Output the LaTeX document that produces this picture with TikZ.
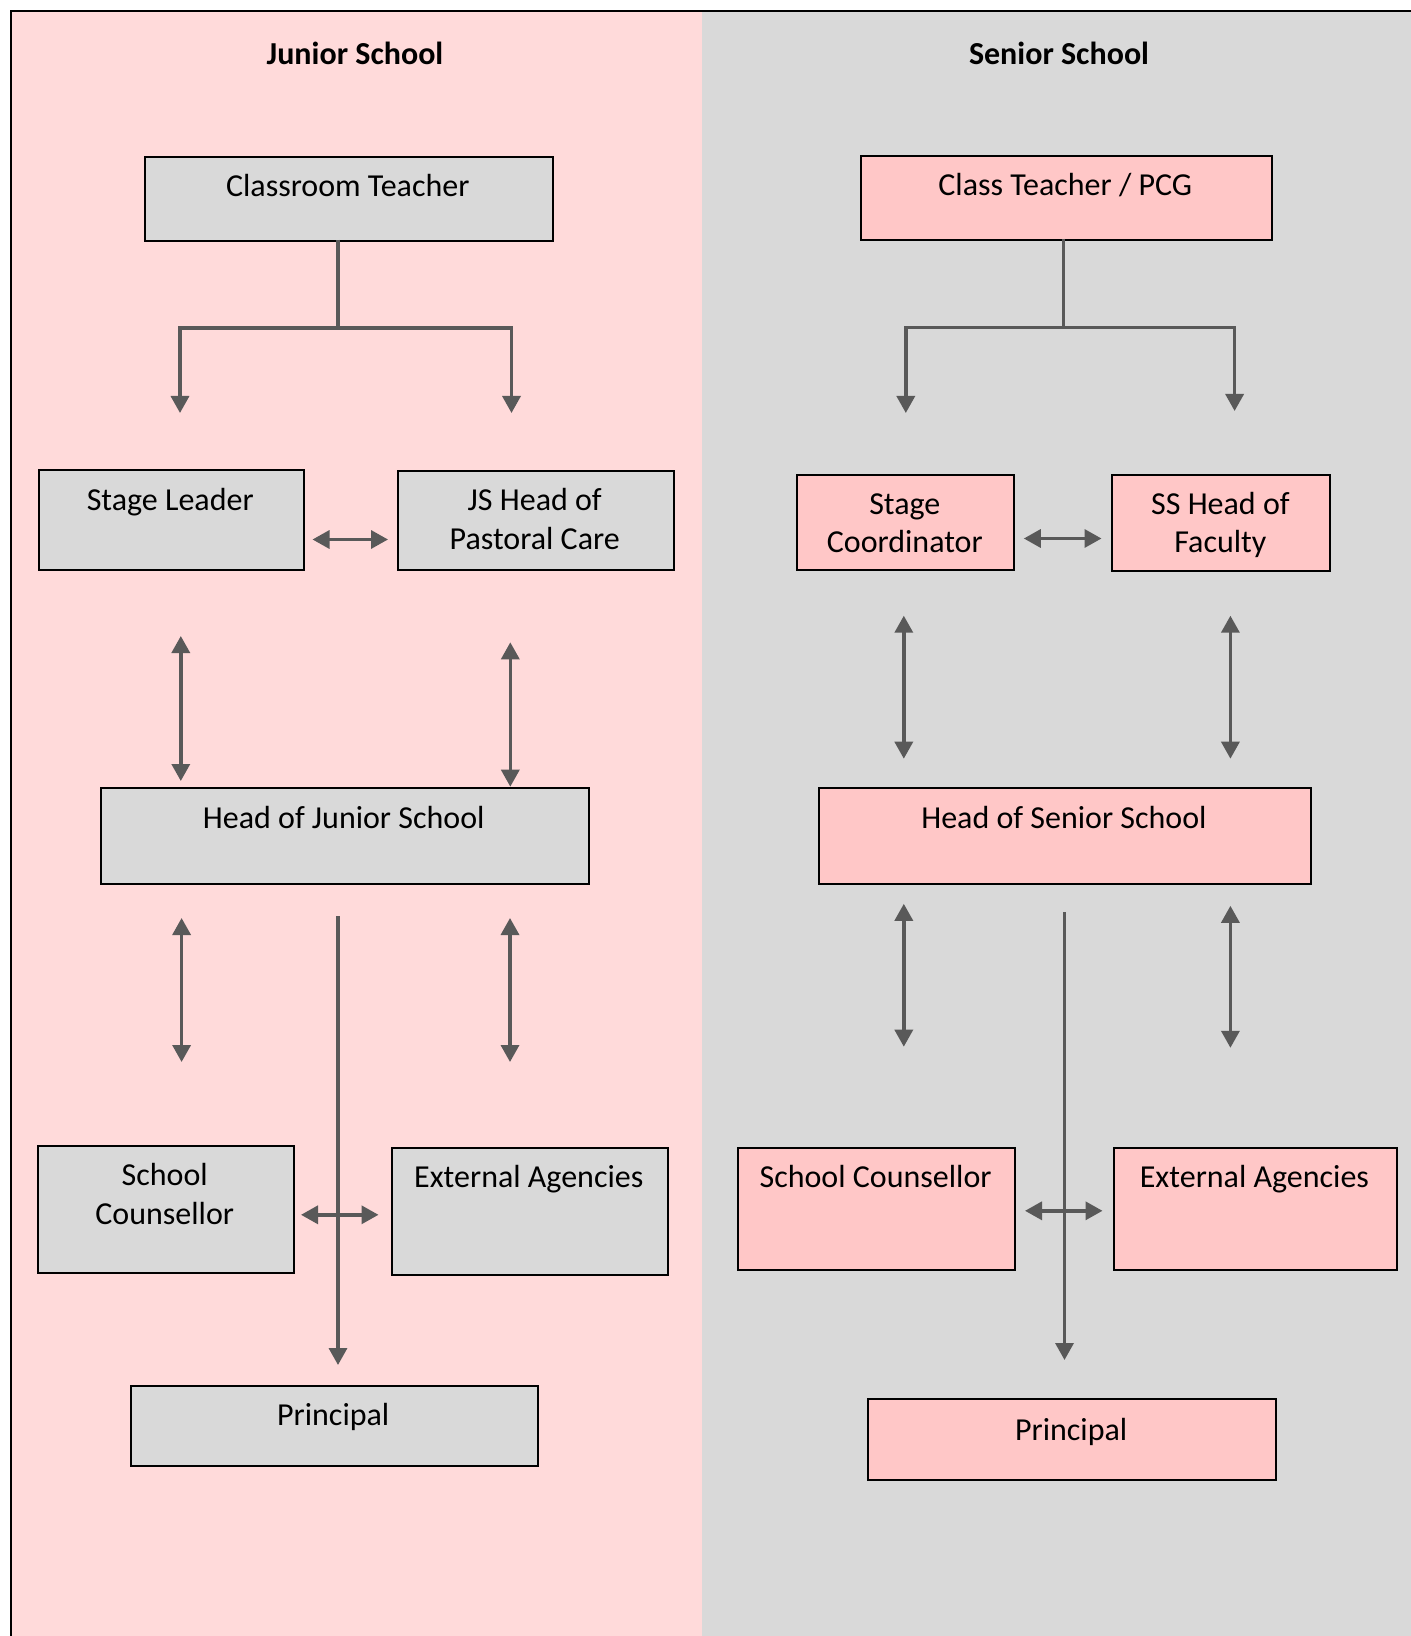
\documentclass[tikz,border=0pt]{standalone}
\usepackage{fontspec}
\setmainfont{Carlito}
\usetikzlibrary{arrows.meta}
\definecolor{pinkbg}{RGB}{255,218,218}
\definecolor{graybg}{RGB}{217,217,217}
\definecolor{pinkbox}{RGB}{255,199,199}
\definecolor{graybox}{RGB}{217,217,217}
\definecolor{conncol}{RGB}{89,89,89}
\begin{document}
\begin{tikzpicture}[x=0.5pt,y=-0.5pt,
  font=\fontsize{16pt}{19.3pt}\selectfont,
  box/.style={draw=black, line width=1pt, inner sep=0pt, anchor=north west, rectangle},
  jbox/.style={box, fill=graybox},
  sbox/.style={box, fill=pinkbox},
  lbl/.style={anchor=base, align=center, inner sep=0pt},
  ttl/.style={lbl, font=\fontsize{16pt}{19.3pt}\selectfont\bfseries},
  conn/.style={draw=conncol, line width=1.7pt},
  tip/.style={conn, -{Triangle[length=8.5pt,width=9pt]}},
  dtip/.style={conn, {Triangle[length=8.5pt,width=9pt]}-{Triangle[length=8.5pt,width=9pt]}}]
\useasboundingbox (0,0) rectangle (1411,1636);
% panels
\fill[pinkbg] (11,11) rectangle (702,1640);
\fill[graybg] (702,11) rectangle (1415,1640);
\draw[line width=1.2pt] (11,1645) -- (11,11) -- (1420,11);

% titles
\node[ttl] (jtitle) at (355,65) {Junior School};
\node[ttl] (stitle) at (1059,65) {Senior School};

% ---------------- Junior school boxes
\node[jbox, minimum width=203.75pt, minimum height=42pt] (ct) at (144,156) {};
\node[jbox, minimum width=132.25pt, minimum height=50pt] (sl) at (38,468.5) {};
\node[jbox, minimum width=138.25pt, minimum height=49.5pt] (jsh) at (396.5,470) {};
\node[jbox, minimum width=243.75pt, minimum height=48pt] (hjs) at (100,787) {};
\node[jbox, minimum width=128.25pt, minimum height=63.75pt] (sc) at (36.5,1144.5) {};
\node[jbox, minimum width=138.25pt, minimum height=63.5pt] (ea) at (390.5,1147) {};
\node[jbox, minimum width=203.75pt, minimum height=39.75pt] (pr) at (129.5,1385) {};

\node[lbl] (ct-t) at (347.75,197) {Classroom Teacher};
\node[lbl] (sl-t) at (170.25,510) {Stage Leader};
\node[lbl] (jsh-t) at (534.75,549.5) {JS Head of\\Pastoral Care};
\node[lbl] (hjs-t) at (343.75,828) {Head of Junior School};
\node[lbl] (sc-t) at (164.75,1224) {School\\Counsellor};
\node[lbl] (ea-t) at (528.75,1187) {External Agencies};
\node[lbl] (pr-t) at (333.25,1425) {Principal};

% ---------------- Senior school boxes
\node[sbox, minimum width=205.25pt, minimum height=42pt] (ctp) at (860,155) {};
\node[sbox, minimum width=108.5pt, minimum height=47.5pt] (sco) at (796.3,473.8) {};
\node[sbox, minimum width=109pt, minimum height=48pt] (ssh) at (1111.4,473.8) {};
\node[sbox, minimum width=245.75pt, minimum height=48pt] (hss) at (818.2,787) {};
\node[sbox, minimum width=138.8pt, minimum height=61pt] (ssc) at (736.8,1147) {};
\node[sbox, minimum width=141.9pt, minimum height=61pt] (sea) at (1112.5,1147) {};
\node[sbox, minimum width=204pt, minimum height=40.2pt] (spr) at (867.2,1398.4) {};

\node[lbl] (ctp-t) at (1065.25,196) {Class Teacher / PCG};
\node[lbl] (sco-t) at (904.8,552.7) {Stage\\Coordinator};
\node[lbl] (ssh-t) at (1220.4,552.7) {SS Head of\\Faculty};
\node[lbl] (hss-t) at (1064,828) {Head of Senior School};
\node[lbl] (ssc-t) at (875.6,1187) {School Counsellor};
\node[lbl] (sea-t) at (1254.4,1187) {External Agencies};
\node[lbl] (spr-t) at (1071.2,1440) {Principal};

% ---------------- Junior connectors
\coordinate (jt0) at (338,240);
\coordinate (jt1) at (338,328);
\coordinate (jl1) at (180,413);
\coordinate (jr1) at (511.5,413);
\draw[conn] (jt0) -- (jt1);
\draw[tip] (jt1) -| (jl1);
\draw[tip] (jt1) -| (jr1);
\coordinate (jh1a) at (312.5,539.5);
\coordinate (jh1b) at (388,539.5);
\draw[dtip] (jh1a) -- (jh1b);
\coordinate (jv1a) at (180.8,636);
\coordinate (jv1b) at (180.8,781);
\draw[dtip] (jv1a) -- (jv1b);
\coordinate (jv2a) at (510.3,642.3);
\coordinate (jv2b) at (510.3,786.7);
\draw[dtip] (jv2a) -- (jv2b);
\coordinate (jv3a) at (181.6,918);
\coordinate (jv3b) at (181.6,1062);
\draw[dtip] (jv3a) -- (jv3b);
\coordinate (jv4a) at (510,918);
\coordinate (jv4b) at (510,1062);
\draw[dtip] (jv4a) -- (jv4b);
\coordinate (jc1) at (338,916);
\coordinate (jc2) at (338,1365);
\draw[tip] (jc1) -- (jc2);
\coordinate (jh2a) at (301,1214.8);
\coordinate (jh2b) at (378.5,1214.8);
\draw[dtip] (jh2a) -- (jh2b);

% ---------------- Senior connectors
\coordinate (st0) at (1063.5,239);
\coordinate (st1) at (1063.5,327.7);
\coordinate (sl1) at (905.8,413);
\coordinate (sr1) at (1234.6,411);
\draw[conn] (st0) -- (st1);
\draw[tip] (st1) -| (sl1);
\draw[tip] (st1) -| (sr1);
\coordinate (sh1a) at (1023.8,538.5);
\coordinate (sh1b) at (1101.5,538.5);
\draw[dtip] (sh1a) -- (sh1b);
\coordinate (sv1a) at (903.8,615.7);
\coordinate (sv1b) at (903.8,758.7);
\draw[dtip] (sv1a) -- (sv1b);
\coordinate (sv2a) at (1230.4,615.7);
\coordinate (sv2b) at (1230.4,758.7);
\draw[dtip] (sv2a) -- (sv2b);
\coordinate (sv3a) at (903.8,903.8);
\coordinate (sv3b) at (903.8,1046.7);
\draw[dtip] (sv3a) -- (sv3b);
\coordinate (sv4a) at (1230.4,905.8);
\coordinate (sv4b) at (1230.4,1047.8);
\draw[dtip] (sv4a) -- (sv4b);
\coordinate (sc1) at (1064.5,912);
\coordinate (sc2) at (1064.5,1360);
\draw[tip] (sc1) -- (sc2);
\coordinate (sh2a) at (1025,1210.8);
\coordinate (sh2b) at (1102.5,1210.8);
\draw[dtip] (sh2a) -- (sh2b);
\end{tikzpicture}
\end{document}
